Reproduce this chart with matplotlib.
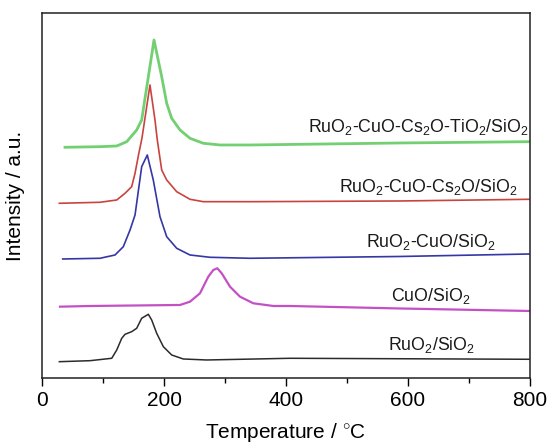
import matplotlib
matplotlib.use("Agg")
import matplotlib.pyplot as plt

plt.rcParams['font.family'] = ['Liberation Sans', 'DejaVu Sans']
plt.rcParams['mathtext.fontset'] = 'custom'
plt.rcParams['mathtext.rm'] = 'Liberation Sans'
plt.rcParams['mathtext.it'] = 'Liberation Sans'

# Temperature (C) / intensity (a.u., offset per curve)
t_black = [28.4, 78.7, 114.3, 122.5, 130.7, 136.1, 147.0, 155.2, 163.4, 174.3, 179.8, 188.0,
           198.9, 212.6, 231.6, 270.0, 406.6, 800]
i_black = [16.3, 17.3, 19.7, 28, 39.7, 43.7, 46.3, 49.7, 59.7, 63.7, 58, 44.7,
           31.3, 23, 19, 18, 19.7, 18.7]

t_magenta = [29.5, 78.7, 226.2, 242.6, 259.0, 272.6, 280.8, 287.4, 294.6, 308.2, 324.6,
             346.4, 379.2, 406.6, 586.9, 800]
i_magenta = [71.3, 72, 73, 76.3, 84.7, 101.3, 108, 109.7, 104.7, 91.3, 81.3,
             74.7, 72, 72, 69.5, 67]

t_blue = [33.9, 95.1, 119.7, 133.3, 144.3, 152.5, 163.4, 172.6, 182.4, 193.4, 204.4,
          220.8, 242.6, 275.4, 341.0, 586.9, 800]
i_blue = [119, 119.7, 123, 131.3, 148, 163, 211.3, 223, 198, 161.3, 141.3,
          129.7, 123, 120.7, 119.7, 121.5, 124]

t_red = [28.4, 95.1, 122.5, 136.1, 147.0, 152.5, 158.2, 163.9, 177.0, 185.2, 189.0, 196.2,
         204.4, 220.8, 242.6, 264.4, 341.0, 586.9, 800]
i_red = [174.7, 175.7, 178, 184.7, 191.3, 204.7, 223, 240, 293, 258, 238, 208,
         198, 186.3, 178.7, 176.3, 176.3, 177, 178.7]

t_green = [37.7, 95.1, 122.5, 138.9, 155.2, 163.4, 183.6, 196.2, 204.4, 212.6, 226.2,
           242.6, 264.4, 291.8, 341.0, 586.9, 800]
i_green = [230.7, 231.3, 232, 236.3, 248, 258, 338, 301.3, 274.7, 259.7, 248,
           239.7, 234.7, 233, 233, 235, 236.3]

labels = [r'RuO$_2$/SiO$_2$', r'CuO/SiO$_2$', r'RuO$_2$-CuO/SiO$_2$',
          r'RuO$_2$-CuO-Cs$_2$O/SiO$_2$', r'RuO$_2$-CuO-Cs$_2$O-TiO$_2$/SiO$_2$']
label_x = [710, 702, 743, 779, 797]
label_y = [33, 82, 136, 191, 251]

fig = plt.figure(figsize=(5.5, 4.46), dpi=100)
ax = fig.add_axes([0.0764, 0.1525, 0.8872, 0.8184])

ax.plot(t_black, i_black, color='#2b2b2b', lw=1.1)
ax.plot(t_magenta, i_magenta, color='#c451c4', lw=1.6)
ax.plot(t_blue, i_blue, color='#3537a6', lw=1.2)
ax.plot(t_red, i_red, color='#c9433f', lw=1.2)
ax.plot(t_green, i_green, color='#72d072', lw=2.0)

for lab, x, y in zip(labels, label_x, label_y):
    ax.text(x, y, lab, ha='right', va='center', fontsize=12.8, color='#1a1a1a')

ax.set_xlim(0, 800)
ax.set_ylim(0, 365)
ax.set_xticks([0, 200, 400, 600, 800])
ax.set_xticks([100, 300, 500, 700], minor=True)
ax.set_yticks([])
ax.tick_params(axis='x', labelsize=15, length=6, width=1, direction='out')
ax.tick_params(axis='x', which='minor', length=3.5, width=1)
for s in ax.spines.values():
    s.set_linewidth(1.1)
    s.set_color('#222222')

ax.set_xlabel('Temperature / $^{\\circ}$C', fontsize=15, labelpad=8)
ax.set_ylabel('Intensity / a.u.', fontsize=15, labelpad=12)

fig.savefig('out.png', dpi=100)
